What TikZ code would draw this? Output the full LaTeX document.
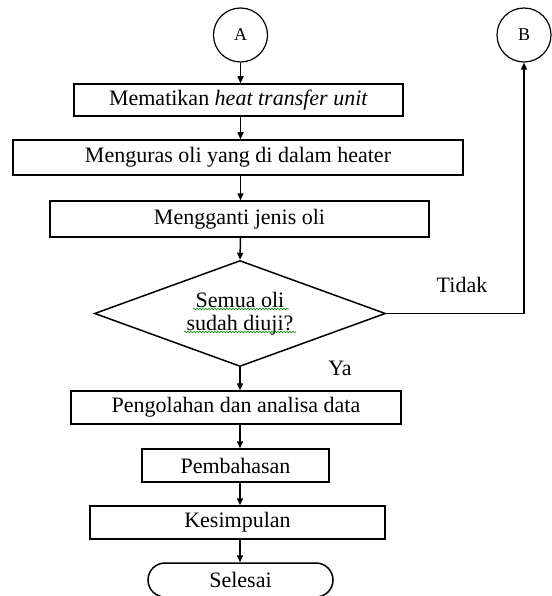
\documentclass[tikz,border=0pt]{standalone}
\usepackage{fontspec}
\setmainfont{Liberation Serif}
\usetikzlibrary{arrows.meta,shapes.geometric,shapes.misc,decorations.pathmorphing}

\begin{document}
\begin{tikzpicture}[x=1pt,y=-1pt,
  line width=1.5pt,
  flow/.style={-{Triangle[length=7pt,width=6pt]}},
  procbox/.style={draw, rectangle, inner sep=0pt, font=\fontsize{22}{24}\selectfont},
  connector/.style={draw, circle, minimum size=54pt, inner sep=0pt, line width=1.2pt, font=\fontsize{18}{20}\selectfont},
  decision/.style={draw, diamond, aspect=3, minimum width=291pt, minimum height=106pt, inner sep=0pt, align=center, font=\fontsize{22}{23}\selectfont},
  terminal/.style={draw, rounded rectangle, minimum width=185pt, minimum height=34pt, inner sep=0pt, font=\fontsize{22}{24}\selectfont},
  caption/.style={font=\fontsize{22}{24}\selectfont, inner sep=0pt},
  squiggle/.style={draw=green!55!black, line width=0.6pt, decorate, decoration={snake, amplitude=0.8pt, segment length=3pt}}
]
\useasboundingbox (0,0) rectangle (551,596);

% off-page connectors
\node[connector] (A) at (240.5,35) {A};
\node[connector] (B) at (524,35) {B};

% process steps
\node[procbox, minimum width=329pt, minimum height=32pt] (s1) at (238.5,100) {Mematikan \textit{heat transfer unit}};
\node[procbox, minimum width=450pt, minimum height=35pt] (s2) at (238,157.5) {Menguras oli yang di dalam heater};
\node[procbox, minimum width=379pt, minimum height=36pt] (s3) at (239.5,219) {Mengganti jenis oli};

% decision
\node[decision] (dec) at (240,313.5) {Semua oli\\sudah diuji?};
\draw[squiggle] (193,309) -- (289,309);
\draw[squiggle] (184,332) -- (296,332);

\node[procbox, minimum width=330pt, minimum height=33pt] (s4) at (236,407.5) {Pengolahan dan analisa data};
\node[procbox, minimum width=187pt, minimum height=33pt] (s5) at (235.5,465.5) {Pembahasan};
\node[procbox, minimum width=295pt, minimum height=33pt] (s6) at (237.5,522.5) {Kesimpulan};
\node[terminal] (end) at (240.5,580) {Selesai};

% branch labels
\node[caption] (tidak) at (462,285) {Tidak};
\node[caption] (ya) at (340,368) {Ya};

% main flow
\draw[flow] (A.south) -- (s1.north -| A.south);
\draw[flow] (s1.south -| A.south) -- (s2.north -| A.south);
\draw[flow] (s2.south -| A.south) -- (s3.north -| A.south);
\draw[flow] (s3.south -| A.south) -- (dec.north);
\draw[flow] (dec.south) -- (s4.north -| dec.south);
\draw[flow] (s4.south -| dec.south) -- (s5.north -| dec.south);
\draw[flow] (s5.south -| dec.south) -- (s6.north -| dec.south);
\draw[flow] (s6.south -| dec.south) -- (end.north -| dec.south);

% "Tidak" branch back to B
\draw[flow] (dec.east) -| (B.south);
\end{tikzpicture}
\end{document}
